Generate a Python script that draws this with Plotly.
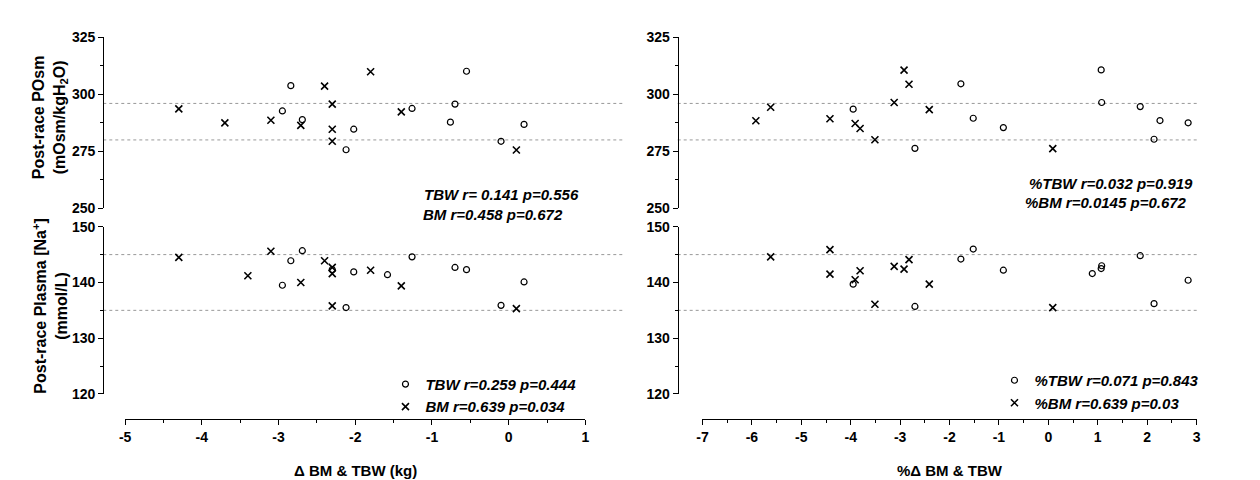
import plotly.graph_objects as go

# left panels: absolute change (kg)
osm_bm_x = [-4.30, -3.70, -3.10, -2.71, -2.40, -2.30, -2.30, -2.30, -1.80, -1.40, 0.10]
osm_bm_y = [293.6, 287.5, 288.6, 286.4, 303.6, 295.7, 284.7, 279.4, 309.9, 292.3, 275.6]
osm_tbw_x = [-2.95, -2.84, -2.69, -2.12, -2.02, -1.26, -0.76, -0.70, -0.55, -0.10, 0.20]
osm_tbw_y = [292.7, 303.8, 288.9, 275.7, 284.7, 293.8, 287.8, 295.7, 310.1, 279.4, 286.8]
na_bm_x = [-4.30, -3.40, -3.10, -2.71, -2.40, -2.30, -2.30, -2.30, -1.80, -1.40, 0.10]
na_bm_y = [144.5, 141.2, 145.6, 140.0, 143.9, 142.7, 141.6, 135.8, 142.2, 139.4, 135.3]
na_tbw_x = [-2.95, -2.84, -2.69, -2.30, -2.12, -2.02, -1.58, -1.26, -0.70, -0.55, -0.10, 0.20]
na_tbw_y = [139.5, 143.9, 145.7, 142.3, 135.5, 141.9, 141.4, 144.6, 142.7, 142.3, 135.9, 140.1]

# right panels: percent change
posm_bm_x = [-5.92, -5.62, -4.42, -3.91, -3.81, -3.51, -3.12, -2.92, -2.82, -2.41, 0.09]
posm_bm_y = [288.4, 294.3, 289.3, 287.2, 285.0, 280.1, 296.4, 310.6, 304.4, 293.3, 276.2]
posm_tbw_x = [-3.95, -2.70, -1.77, -1.52, -0.91, 1.07, 1.08, 1.86, 2.14, 2.26, 2.83]
posm_tbw_y = [293.5, 276.3, 304.6, 289.5, 285.4, 310.7, 296.4, 294.6, 280.3, 288.5, 287.5]
pna_bm_x = [-5.62, -4.42, -4.42, -3.91, -3.81, -3.51, -3.12, -2.92, -2.82, -2.41, 0.09]
pna_bm_y = [144.6, 145.9, 141.5, 140.5, 142.1, 136.1, 142.9, 142.4, 144.1, 139.7, 135.5]
pna_tbw_x = [-3.95, -2.70, -1.77, -1.52, -0.91, 0.89, 1.07, 1.08, 1.86, 2.14, 2.83]
pna_tbw_y = [139.7, 135.7, 144.2, 146.0, 142.2, 141.6, 142.5, 143.0, 144.8, 136.2, 140.4]

osm_ref = [296, 280]
na_ref = [145, 135]

x_ticks_kg = [-5, -4, -3, -2, -1, 0, 1]
x_ticks_pct = [-7, -6, -5, -4, -3, -2, -1, 0, 1, 2, 3]
osm_ticks = [250, 275, 300, 325]
na_ticks = [120, 130, 140, 150]

legend_left = ["TBW r=0.259 p=0.444", "BM r=0.639 p=0.034"]
legend_right = ["%TBW r=0.071 p=0.843", "%BM r=0.639 p=0.03"]

W, H = 1260, 480
FONT = "Liberation Sans, Arial"
circ = dict(symbol="circle-open", size=6, color="black", line=dict(width=1.2, color="black"))
cross = dict(symbol="x-thin-open", size=7, color="black", line=dict(width=1.6, color="black"))

fig = go.Figure()
panels = [
    ("x", "y", osm_tbw_x, osm_tbw_y, osm_bm_x, osm_bm_y, None, "legend"),
    ("x", "y2", na_tbw_x, na_tbw_y, na_bm_x, na_bm_y, legend_left, "legend"),
    ("x2", "y3", posm_tbw_x, posm_tbw_y, posm_bm_x, posm_bm_y, None, "legend2"),
    ("x2", "y4", pna_tbw_x, pna_tbw_y, pna_bm_x, pna_bm_y, legend_right, "legend2"),
]
for xa, ya, tx, ty, bx, by, names, lg in panels:
    show = names is not None
    fig.add_trace(go.Scatter(x=tx, y=ty, mode="markers", marker=circ, xaxis=xa, yaxis=ya,
                             name="<i>%s</i>" % names[0] if show else "", showlegend=show, legend=lg))
    fig.add_trace(go.Scatter(x=bx, y=by, mode="markers", marker=cross, xaxis=xa, yaxis=ya,
                             name="<i>%s</i>" % names[1] if show else "", showlegend=show, legend=lg))

def px(v):
    return v / W

def py(v):
    return 1 - v / H

tickfont = dict(family=FONT, size=14, color="black")
ydom_top = [py(199), py(22)]
ydom_bot = [py(391), py(218)]

def bold(vals):
    return ["<b>%d</b>" % v for v in vals]

def yax(rng, vals, dom, pos):
    step = vals[1] - vals[0]
    return dict(range=rng, tickvals=vals, ticktext=bold(vals), domain=dom, anchor="free", position=pos,
                showline=True, linecolor="black", linewidth=1.3, ticks="outside",
                ticklen=5, tickwidth=1.3, tickcolor="black", showgrid=False,
                zeroline=False, tickfont=tickfont,
                minor=dict(ticks="outside", ticklen=3, dtick=step / 2, tickcolor="black", tickwidth=1.1, showgrid=False))

def xax(rng, vals, dom):
    return dict(range=rng, tickvals=vals, ticktext=bold(vals), domain=dom, anchor="free", position=py(417),
                showline=True, linecolor="black", linewidth=1.3, ticks="outside",
                ticklen=5, tickwidth=1.3, tickcolor="black", showgrid=False,
                zeroline=False, tickfont=tickfont,
                minor=dict(ticks="outside", ticklen=3, dtick=0.5, tickcolor="black", tickwidth=1.1, showgrid=False))

legfont = dict(family=FONT, size=15, color="black", weight="bold")
fig.update_layout(
    width=W, height=H, margin=dict(l=0, r=0, t=0, b=0),
    paper_bgcolor="white", plot_bgcolor="rgba(0,0,0,0)", showlegend=True,
    xaxis=xax([-5, 1], x_ticks_kg, [px(112), px(576)]),
    xaxis2=xax([-7, 3], x_ticks_pct, [px(694), px(1192)]),
    yaxis=yax([250, 325], osm_ticks, ydom_top, px(90)),
    yaxis2=yax([120, 150], na_ticks, ydom_bot, px(90)),
    yaxis3=yax([250, 325], osm_ticks, ydom_top, px(669)),
    yaxis4=yax([120, 150], na_ticks, ydom_bot, px(669)),
    legend=dict(x=px(572), y=py(364), xanchor="right", yanchor="top", bgcolor="rgba(0,0,0,0)",
                font=legfont, tracegroupgap=0, itemwidth=30),
    legend2=dict(x=px(1200), y=py(360), xanchor="right", yanchor="top", bgcolor="rgba(0,0,0,0)",
                 font=legfont, tracegroupgap=0, itemwidth=30),
)

for ya, refs in [("y", osm_ref), ("y2", na_ref)]:
    for r in refs:
        fig.add_shape(type="line", xref="paper", yref=ya, x0=px(90), x1=px(615), y0=r, y1=r,
                      line=dict(color="#999", width=1, dash="dot"), layer="below")
for ya, refs in [("y3", osm_ref), ("y4", na_ref)]:
    for r in refs:
        fig.add_shape(type="line", xref="paper", yref=ya, x0=px(669), x1=px(1194), y0=r, y1=r,
                      line=dict(color="#999", width=1, dash="dot"), layer="below")

def note(text, x, y, size=15, anchor="right", angle=0):
    fig.add_annotation(text="<b>%s</b>" % text, xref="paper", yref="paper", x=px(x), y=py(y),
                       showarrow=False, xanchor=anchor, yanchor="middle", textangle=angle,
                       font=dict(family=FONT, size=size, color="black"))

note("<i>TBW r= 0.141 p=0.556</i>", 572, 185)
note("<i>BM r=0.458 p=0.672</i>", 555, 205)
note("<i>%TBW r=0.032 p=0.919</i>", 1190, 173)
note("<i>%BM r=0.0145 p=0.672</i>", 1184, 193)
note("Δ BM & TBW (kg)", 344, 470, size=15, anchor="center")
note("%Δ BM & TBW", 943, 470, size=15, anchor="center")
note("Post-race POsm<br>(mOsm/kgH<sub>2</sub>O)", 36, 105, size=16, anchor="center", angle=-90)
note("Post-race Plasma [Na<sup>+</sup>]<br>(mmol/L)", 36, 300, size=16, anchor="center", angle=-90)

fig.write_html("out.html")
